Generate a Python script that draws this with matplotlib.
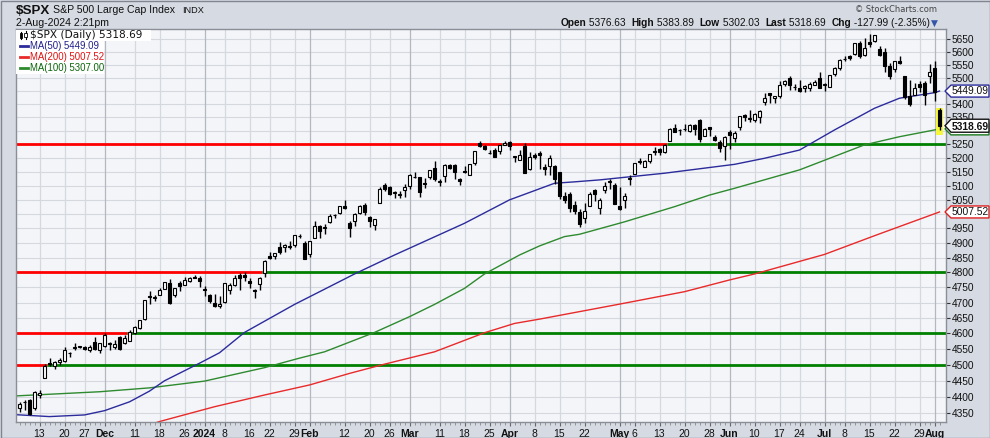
import numpy as np
import matplotlib
matplotlib.use("Agg")
import matplotlib.pyplot as plt
from matplotlib.patches import Rectangle, Polygon
from matplotlib.lines import Line2D
from matplotlib.transforms import IdentityTransform
from matplotlib.ticker import FixedLocator, NullLocator

# ---------------- data (bar 0 = 7-Nov-2023 ... bar 184 = 2-Aug-2024) ----------------
OPEN = [4366, 4384, 4391, 4365, 4406, 4458, 4506, 4497, 4510, 4511,
        4538, 4553, 4555, 4555, 4546, 4571, 4548, 4559, 4565, 4557,
        4587, 4568, 4577, 4601, 4618, 4647, 4721, 4714, 4726, 4744,
        4764, 4724, 4765, 4759, 4773, 4786, 4783, 4745, 4726, 4698,
        4690, 4703, 4742, 4759, 4792, 4791, 4772, 4740, 4761, 4797,
        4854, 4856, 4888, 4886, 4888, 4893, 4925, 4899, 4862, 4917,
        4957, 4950, 4973, 4996, 5004, 5027, 4968, 4976, 5004, 5031,
        4990, 4963, 5039, 5101, 5094, 5074, 5068, 5085, 5098, 5131,
        5130, 5109, 5132, 5164, 5112, 5134, 5173, 5175, 5124, 5154,
        5139, 5181, 5253, 5242, 5220, 5228, 5226, 5249, 5258, 5205,
        5194, 5244, 5159, 5212, 5218, 5168, 5172, 5171, 5149, 5064,
        5069, 5032, 5006, 4988, 5029, 5085, 5020, 5084, 5114, 5103,
        5030, 5050, 5123, 5142, 5187, 5168, 5189, 5225, 5233, 5221,
        5264, 5310, 5303, 5306, 5298, 5320, 5340, 5282, 5315, 5278,
        5259, 5243, 5297, 5275, 5314, 5357, 5343, 5341, 5353, 5409,
        5441, 5424, 5432, 5477, 5499, 5466, 5460, 5461, 5460, 5473,
        5499, 5471, 5466, 5514, 5537, 5572, 5584, 5591, 5635, 5590,
        5638, 5644, 5610, 5599, 5544, 5535, 5565, 5506, 5429, 5434,
        5477, 5479, 5505, 5537, 5376.63]
HIGH = [4386, 4391, 4393, 4418, 4421, 4503, 4521, 4511, 4521, 4557,
        4542, 4569, 4561, 4561, 4562, 4588, 4570, 4600, 4572, 4578,
        4590, 4594, 4610, 4623, 4644, 4709, 4739, 4726, 4749, 4769,
        4778, 4749, 4772, 4785, 4785, 4793, 4789, 4755, 4730, 4727,
        4721, 4764, 4765, 4790, 4799, 4803, 4782, 4744, 4784, 4842,
        4868, 4866, 4903, 4898, 4907, 4929, 4931, 4906, 4907, 4976,
        4962, 4964, 4999, 5001, 5030, 5048, 4975, 5003, 5033, 5038,
        4994, 4983, 5094, 5111, 5098, 5080, 5083, 5105, 5141, 5149,
        5133, 5128, 5158, 5189, 5125, 5179, 5180, 5180, 5128, 5170,
        5179, 5225, 5262, 5246, 5229, 5235, 5249, 5264, 5264, 5209,
        5229, 5256, 5222, 5219, 5224, 5178, 5211, 5175, 5150, 5079,
        5077, 5046, 5019, 5039, 5077, 5089, 5058, 5114, 5123, 5110,
        5096, 5074, 5140, 5181, 5201, 5191, 5215, 5240, 5238, 5250,
        5312, 5325, 5306, 5325, 5324, 5324, 5342, 5311, 5315, 5283,
        5265, 5281, 5302, 5298, 5354, 5362, 5376, 5366, 5376, 5441,
        5442, 5432, 5488, 5490, 5506, 5478, 5490, 5472, 5483, 5490,
        5524, 5480, 5510, 5540, 5571, 5584, 5590, 5635, 5642, 5655,
        5670, 5667, 5622, 5614, 5556, 5566, 5586, 5508, 5492, 5479,
        5487, 5489, 5552, 5566, 5383.89]
LOW = [4355, 4359, 4344, 4359, 4396, 4458, 4496, 4488, 4500, 4510,
       4526, 4546, 4554, 4546, 4540, 4547, 4537, 4555, 4547, 4551,
       4547, 4566, 4577, 4598, 4613, 4643, 4695, 4705, 4725, 4744,
       4697, 4717, 4737, 4758, 4767, 4780, 4751, 4723, 4700, 4687,
       4683, 4699, 4730, 4756, 4740, 4771, 4748, 4715, 4740, 4785,
       4845, 4844, 4861, 4870, 4881, 4887, 4916, 4845, 4853, 4917,
       4918, 4932, 4970, 4987, 4999, 5017, 4920, 4957, 4999, 4996,
       4955, 4946, 5039, 5081, 5068, 5058, 5057, 5061, 5089, 5128,
       5061, 5092, 5126, 5118, 5100, 5114, 5160, 5126, 5104, 5145,
       5137, 5173, 5240, 5230, 5216, 5203, 5213, 5246, 5229, 5184,
       5191, 5146, 5157, 5197, 5161, 5138, 5139, 5107, 5053, 5039,
       5007, 4999, 4954, 4969, 5028, 5047, 5002, 5073, 5090, 5035,
       5014, 5020, 5101, 5142, 5178, 5166, 5181, 5211, 5211, 5217,
       5263, 5296, 5284, 5299, 5297, 5286, 5257, 5279, 5279, 5263,
       5223, 5191, 5234, 5257, 5303, 5336, 5331, 5331, 5327, 5398,
       5403, 5404, 5421, 5468, 5455, 5452, 5447, 5446, 5451, 5471,
       5460, 5448, 5464, 5508, 5531, 5565, 5570, 5587, 5576, 5584,
       5620, 5640, 5584, 5523, 5497, 5524, 5554, 5419, 5391, 5434,
       5445, 5398, 5480, 5410, 5302.03]
CLOSE = [4378, 4383, 4347, 4415, 4412, 4496, 4503, 4508, 4514, 4547,
         4538, 4557, 4559, 4550, 4555, 4551, 4568, 4595, 4570, 4567,
         4549, 4586, 4604, 4622, 4644, 4707, 4720, 4719, 4741, 4768,
         4698, 4747, 4755, 4775, 4782, 4783, 4770, 4743, 4705, 4689,
         4697, 4764, 4757, 4783, 4780, 4784, 4766, 4739, 4781, 4840,
         4850, 4865, 4869, 4894, 4891, 4928, 4925, 4846, 4906, 4959,
         4943, 4954, 4995, 4998, 5027, 5022, 4953, 5001, 5030, 5006,
         4976, 4982, 5087, 5089, 5070, 5078, 5070, 5096, 5137, 5131,
         5079, 5105, 5157, 5124, 5118, 5175, 5165, 5150, 5117, 5149,
         5179, 5225, 5242, 5234, 5218, 5204, 5248, 5254, 5244, 5206,
         5211, 5147, 5204, 5202, 5210, 5161, 5199, 5123, 5062, 5051,
         5022, 5011, 4967, 5011, 5071, 5072, 5048, 5100, 5116, 5036,
         5018, 5064, 5128, 5181, 5188, 5188, 5214, 5223, 5221, 5247,
         5308, 5297, 5303, 5308, 5321, 5307, 5268, 5305, 5306, 5267,
         5235, 5278, 5283, 5291, 5354, 5353, 5347, 5361, 5375, 5421,
         5434, 5432, 5473, 5487, 5473, 5465, 5448, 5469, 5478, 5483,
         5460, 5475, 5509, 5537, 5567, 5573, 5577, 5634, 5585, 5615,
         5631, 5667, 5588, 5545, 5505, 5564, 5556, 5427, 5399, 5459,
         5464, 5436, 5522, 5447, 5318.69]

# moving averages at sample bars
MA50_BAR = [-1, 6, 13, 17, 22, 26, 29, 36, 40, 45, 55, 58, 67, 75, 89, 98, 107, 111,
            116, 129, 143, 149, 156, 163, 171, 176, 183, 184]
MA50_VAL = [4346, 4340, 4345, 4358, 4385, 4418, 4450, 4505, 4538, 4603, 4694, 4719, 4795,
            4859, 4968, 5050, 5109, 5114, 5121, 5145, 5177, 5199, 5229, 5303, 5384, 5422,
            5443, 5449.09]
MA100_BAR = [-1, 16, 26, 37, 49, 56, 61, 71, 78, 83, 89, 93, 100, 104, 109, 112, 121,
             131, 138, 143, 156, 169, 176, 183, 184]
MA100_VAL = [4403, 4416, 4428, 4449, 4491, 4521, 4541, 4603, 4654, 4694, 4747, 4795, 4859,
             4890, 4922, 4930, 4973, 5026, 5067, 5091, 5157, 5248, 5278, 5303, 5307.00]
MA200_BAR = [27, 28, 39, 49, 58, 66, 73, 83, 93, 99, 104, 120, 133, 142, 147, 161, 171,
             174, 184]
MA200_VAL = [4320, 4325, 4370, 4406, 4437, 4473, 4502, 4541, 4602, 4632, 4646, 4695, 4736,
             4775, 4795, 4861, 4925, 4944, 5007.52]

LEVELS = [5250, 4800, 4600, 4500]

XTICK_POS = [4, 9, 13, 17, 23, 28, 33, 37, 41, 46, 50, 55, 58, 65, 70, 74, 78, 84, 89, 94,
             98, 103, 108, 113, 120, 123, 128, 133, 138, 142, 147, 152, 156, 161, 165, 170,
             175, 180, 183]
XTICK_LBL = ["13", "20", "27", "Dec", "11", "18", "26", "2024", "8", "16", "22", "29", "Feb",
             "12", "20", "26", "Mar", "11", "18", "25", "Apr", "8", "15", "22", "May", "6",
             "13", "20", "28", "Jun", "10", "17", "24", "Jul", "8", "15", "22", "29", "Aug"]
MONTHS = {"Dec", "2024", "Feb", "Mar", "Apr", "May", "Jun", "Jul", "Aug"}
YTICKS = list(range(4350, 5651, 50))

INFO = [("Open", True), (" 5376.63  ", False), ("High", True), (" 5383.89  ", False),
        ("Low", True), (" 5302.03  ", False), ("Last", True), (" 5318.69  ", False),
        ("Chg", True), (" -127.99 (-2.35%)", False)]

# ---------------- style ----------------
W, H = 990, 438
BG_OUT = "#d6dae3"
PLOT_BG = "#f4f5f9"
GRID = "#d5d8df"
GRID_M = "#b3b7c0"
C50, C100, C200 = "#2b2b9c", "#2e8a2e", "#e82a2a"
LRED, LGREEN = "#ff0000", "#008000"
SANS = "Liberation Sans"

fig = plt.figure(figsize=(W / 100, H / 100), dpi=100)
fig.patch.set_facecolor(BG_OUT)


def fx(px):
    return px / W


def fy(py):
    return 1 - py / H


ax = fig.add_axes([fx(16), fy(422), (946 - 16) / W, (422 - 29) / H])
ax.set_facecolor(PLOT_BG)
ax.set_yscale("log")
XL = (-0.7, 185.3)
ax.set_xlim(*XL)
ax.set_ylim(4323.6, 5690.8)

# grid
for yv in YTICKS:
    ax.axhline(yv, color=GRID, lw=0.8, zorder=0.5)
for p, lbl in zip(XTICK_POS, XTICK_LBL):
    ax.axvline(p, color=GRID_M if lbl in MONTHS else GRID, lw=0.9, zorder=0.6)

# horizontal level lines coloured by close above/below
n = len(CLOSE)
for lev in LEVELS:
    above = [c > lev for c in CLOSE]
    start = 0
    for i in range(1, n + 1):
        if i == n or above[i] != above[start]:
            x0 = start - 0.5 if start > 0 else XL[0]
            x1 = i - 0.5 if i < n else XL[1]
            ax.plot([x0, x1], [lev, lev], color=LGREEN if above[start] else LRED,
                    lw=2.0, solid_capstyle="butt", zorder=2)
            start = i

# moving averages
ax.plot(MA200_BAR, MA200_VAL, color=C200, lw=1.0, zorder=2.5)
ax.plot(MA100_BAR, MA100_VAL, color=C100, lw=1.0, zorder=2.5)
ax.plot(MA50_BAR, MA50_VAL, color=C50, lw=1.0, zorder=2.5)

# yellow highlight of last bar
last = n - 1
ax.add_patch(Rectangle((last - 0.75, LOW[last] * 0.997), 1.5,
                       HIGH[last] * 1.0005 - LOW[last] * 0.997,
                       facecolor="#f7f73a", edgecolor="none", zorder=2.8))

# candles
x = np.arange(n)
O = np.array(OPEN, float)
Hh = np.array(HIGH, float)
Lw = np.array(LOW, float)
C = np.array(CLOSE, float)
ax.vlines(x, Lw, Hh, color="black", lw=1.0, zorder=3)
lo = np.minimum(O, C)
hi = np.maximum(O, C)
up = C > O
ax.bar(x[up], hi[up] - lo[up], bottom=lo[up], width=0.62, facecolor="white",
       edgecolor="black", lw=0.8, zorder=4)
ax.bar(x[~up], hi[~up] - lo[~up], bottom=lo[~up], width=0.62, facecolor="black",
       edgecolor="black", lw=0.8, zorder=4)

# price tags shown on the right axis (value, edge colour, bold, show text)
TAGS = [(MA50_VAL[-1], "#2b2b9c", False, True),
        (MA200_VAL[-1], "#e02020", False, True),
        (MA100_VAL[-1], "#1c7a1c", False, False),
        (CLOSE[-1], "#111111", True, True)]
PX_PER_LN = 393 / np.log(5690.8 / 4323.6)

# axes styling
for s in ax.spines.values():
    s.set_color("#8a8e97")
    s.set_linewidth(1.0)
ax.yaxis.tick_right()
ax.yaxis.set_major_locator(FixedLocator(YTICKS))
ax.yaxis.set_minor_locator(NullLocator())
ylabels = []
for v in YTICKS:
    hidden = any(abs(np.log(v / t[0])) * PX_PER_LN < 7 for t in TAGS)
    ylabels.append("" if hidden else str(v))
ax.set_yticklabels(ylabels)
ax.tick_params(axis="y", which="major", length=3, width=0.8, color="#333333", pad=1,
               labelsize=7.3, labelcolor="#111111")
for t in ax.get_yticklabels():
    t.set_fontfamily(SANS)
ax.set_xticks(XTICK_POS)
ax.set_xticklabels(XTICK_LBL)
ax.xaxis.set_minor_locator(FixedLocator(list(range(n))))
ax.tick_params(axis="x", which="major", length=3, width=0.8, color="#666666", pad=2,
               labelsize=7.5, labelcolor="#111111")
ax.tick_params(axis="x", which="minor", length=2, width=0.6, color="#888888")
for t in ax.get_xticklabels():
    t.set_fontfamily(SANS)
    if t.get_text() in MONTHS:
        t.set_fontweight("bold")

# ---------------- header texts ----------------
fig.text(fx(16), fy(13.5), "$SPX", fontsize=9.6, fontweight="bold", family=SANS,
         va="baseline", ha="left", color="#111111")
fig.text(fx(53), fy(12.7), "S&P 500 Large Cap Index", fontsize=7.6, family=SANS,
         va="baseline", ha="left", color="#111111")
fig.text(fx(182), fy(12.7), "INDX", fontsize=6.6, family=SANS, va="baseline", ha="left",
         color="#111111")
fig.text(fx(16), fy(26), "2-Aug-2024 2:21pm", fontsize=7.6, family=SANS, va="baseline",
         ha="left", color="#111111")
fig.text(fx(937), fy(11.5), "\u00a9 StockCharts.com", fontsize=6.0, family="DejaVu Sans",
         va="baseline", ha="right", color="#444444")

# info line (right aligned at x=930)
fig.canvas.draw()
r = fig.canvas.get_renderer()
cur = 540.0
items = []
for s, b in INFO:
    t = fig.text(fx(cur), fy(26), s, fontsize=7.3, family=SANS,
                 fontweight="bold" if b else "normal", va="baseline", ha="left",
                 color="#111111")
    items.append(t)
    cur += t.get_window_extent(renderer=r).width
shift = 930 - cur
for t in items:
    t.set_x(fx(t.get_position()[0] * W + shift))
fig.text(fx(931), fy(26), "\u25bc", fontsize=6.5, family="DejaVu Sans", va="baseline",
         ha="left", color="#3556a8")

# ---------------- legend ----------------
fig.add_artist(Rectangle((16, H - 41), 135, 11.5, transform=IdentityTransform(),
                         facecolor="white", edgecolor="none", zorder=5))
fig.add_artist(Rectangle((16, H - 74), 88, 33.5, transform=IdentityTransform(),
                         facecolor="white", edgecolor="none", zorder=5))
fig.add_artist(Line2D([21, 21], [H - 31.5, H - 39], transform=IdentityTransform(),
                      color="black", lw=0.8, zorder=6))
fig.add_artist(Rectangle((19.8, H - 38), 2.4, 5, transform=IdentityTransform(),
                         facecolor="black", edgecolor="black", lw=0.6, zorder=6))
fig.add_artist(Line2D([25.5, 25.5], [H - 31, H - 39], transform=IdentityTransform(),
                      color="black", lw=0.8, zorder=6))
fig.add_artist(Rectangle((24.3, H - 37), 2.4, 4, transform=IdentityTransform(),
                         facecolor="white", edgecolor="black", lw=0.6, zorder=7))
fig.text(fx(30.5), fy(35.5), "$SPX (Daily) 5318.69", fontsize=7.6, family="DejaVu Sans",
         va="center", ha="left", color="#111111", zorder=8)
rows = [("MA(50) 5449.09", C50, "#1e1e8c", 46.3),
        ("MA(200) 5007.52", C200, "#e01010", 57.2),
        ("MA(100) 5307.00", C100, "#0a650a", 68.3)]
for s, lc, tc, yy in rows:
    fig.add_artist(Line2D([20, 28], [H - yy, H - yy], transform=IdentityTransform(),
                          color=lc, lw=2.0, zorder=6))
    fig.text(fx(29.5), fy(yy), s, fontsize=6.9, family=SANS, va="center", ha="left",
             color=tc, zorder=8)

# ---------------- right-side price tags ----------------
z = 9
for price, edge, bold, show in TAGS:
    hh = 6.5 if bold else 6.0
    yd = ax.transData.transform((0, price))[1]
    pts = [(945, yd), (951, yd + hh), (989, yd + hh), (989, yd - hh), (951, yd - hh)]
    fig.add_artist(Polygon(pts, closed=True, transform=IdentityTransform(),
                           facecolor="white", edgecolor=edge, lw=1.0, zorder=z))
    if show:
        fig.text(970 / W, (yd - (1.0 if bold else 0.0)) / H, "%.2f" % price,
                 fontsize=7.4, family=SANS, fontweight="bold" if bold else "normal",
                 va="center", ha="center", color="#111111", zorder=z + 0.5)
    z += 1

# outer frame
fig.add_artist(Rectangle((0.5, 0.5), W - 1, H - 1, transform=IdentityTransform(),
                         facecolor="none", edgecolor="#80858f", lw=1.0, zorder=20))

fig.savefig("out.png", dpi=100, facecolor=BG_OUT)
